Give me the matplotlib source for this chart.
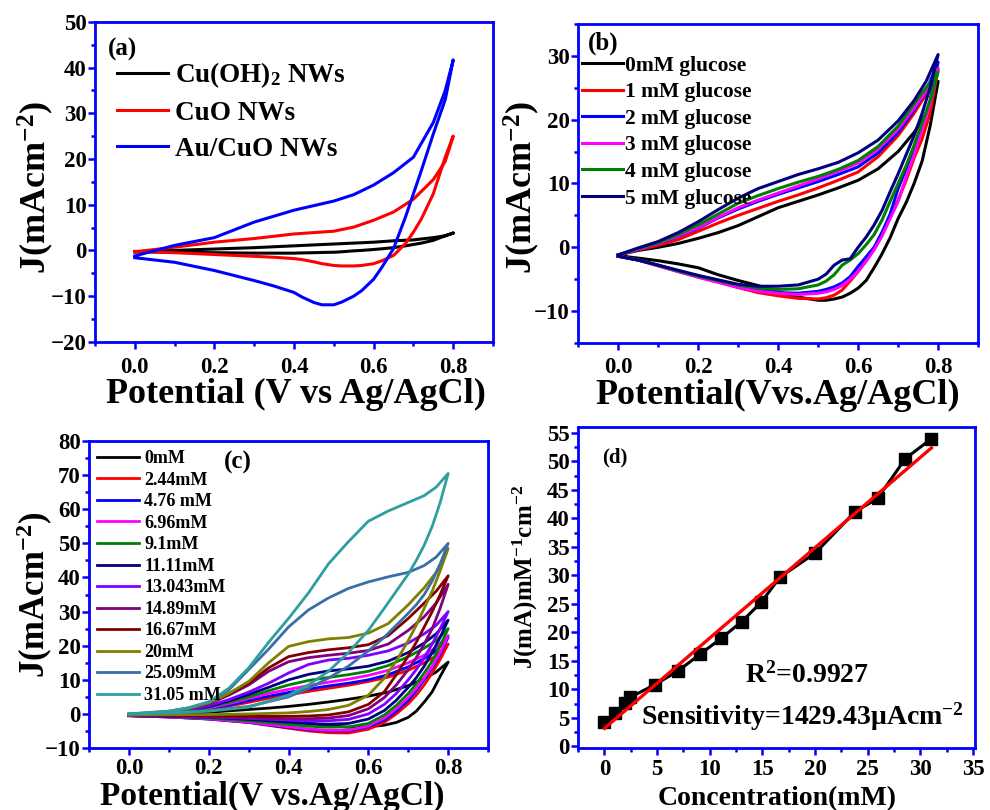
import numpy as np
import matplotlib
matplotlib.use('Agg')
import matplotlib.pyplot as plt
from matplotlib.ticker import MultipleLocator

plt.rcParams['font.family'] = 'Liberation Serif'
plt.rcParams['font.weight'] = 'bold'
plt.rcParams['mathtext.fontset'] = 'custom'
plt.rcParams['mathtext.rm'] = 'Liberation Serif:bold'
plt.rcParams['mathtext.bf'] = 'Liberation Serif:bold'
plt.rcParams['mathtext.default'] = 'regular'

# ---------- DATA ----------
# (a) CVs of the three electrodes, forward (anodic) and reverse scans
a_vf = [0, 0.1, 0.2, 0.3, 0.4, 0.5, 0.55, 0.6, 0.65, 0.7, 0.75, 0.78, 0.8]
a_vr = [0.8, 0.78, 0.75, 0.72, 0.7, 0.68, 0.65, 0.62, 0.6, 0.57, 0.55, 0.52, 0.5,
        0.47, 0.45, 0.42, 0.4, 0.35, 0.3, 0.25, 0.2, 0.1, 0]
a_labels = [r'Cu(OH)$_2$ NWs', 'CuO NWs', 'Au/CuO NWs']
a_colors = ['#000000', '#FF0000', '#0000FF']
cuoh_f = [-0.3, 0.0, 0.3, 0.6, 1.0, 1.4, 1.6, 1.8, 2.1, 2.3, 2.8, 3.2, 3.8]
cuoh_r = [3.8, 3.2, 2.2, 1.6, 1.3, 1.0, 0.6, 0.35, 0.2, 0.0, -0.1, -0.3, -0.4,
          -0.45, -0.5, -0.55, -0.6, -0.6, -0.6, -0.55, -0.5, -0.4, -0.3]
cuo_f = [-0.3, 0.7, 1.8, 2.6, 3.6, 4.2, 5.1, 6.6, 8.4, 11.2, 15.5, 19.5, 25.0]
cuo_r = [25.0, 20.4, 12.4, 6.9, 4.0, 1.5, -1.1, -2.3, -2.9, -3.3, -3.4, -3.4, -3.3,
         -2.9, -2.5, -2.0, -1.8, -1.5, -1.3, -1.1, -0.9, -0.5, -0.2]
aucuo_f = [-1.2, 1.1, 2.8, 6.2, 8.8, 10.8, 12.2, 14.3, 17.0, 20.4, 28.0, 35.0, 41.7]
aucuo_r = [41.7, 33.0, 25.5, 17.5, 12.4, 7.3, 0.4, -3.8, -6.3, -8.8, -10.0, -11.3, -11.9,
           -11.9, -11.4, -10.2, -9.2, -7.8, -6.6, -5.5, -4.4, -2.6, -1.6]
a_fwd = [cuoh_f, cuo_f, aucuo_f]
a_rev = [cuoh_r, cuo_r, aucuo_r]

# (b) CVs with 0-5 mM glucose
b_vf = [0, 0.05, 0.1, 0.15, 0.2, 0.25, 0.3, 0.35, 0.4, 0.45, 0.5, 0.55, 0.6, 0.65, 0.7, 0.74, 0.77, 0.8]
b_vr = [0.8, 0.78, 0.76, 0.74, 0.72, 0.7, 0.68, 0.66, 0.64, 0.62, 0.6, 0.58, 0.56, 0.54, 0.52,
        0.5, 0.45, 0.4, 0.35, 0.3, 0.25, 0.2, 0.15, 0.1, 0.05, 0]
b_labels = ['0mM glucose', '1 mM glucose', '2 mM glucose', '3 mM glucose', '4 mM glucose', '5 mM glucose']
b_colors = ['#000000', '#FF0000', '#0000FF', '#FF00FF', '#008000', '#000080']
g0_f = [-1.2, -0.5, 0.0, 0.6, 1.4, 2.3, 3.4, 4.8, 6.2, 7.2, 8.2, 9.3, 10.5, 12.3, 15.0, 18.0, 21.0, 26.0]
g0_r = [26.0, 19.0, 13.5, 10.0, 7.0, 4.5, 1.5, -1.0, -3.2, -5.2, -6.4, -7.2, -7.8, -8.1, -8.3,
        -8.3, -7.8, -7.0, -6.0, -5.2, -4.3, -3.2, -2.6, -2.1, -1.7, -1.3]
g1_f = [-1.2, -0.4, 0.3, 1.2, 2.5, 3.8, 5.0, 6.1, 7.2, 8.2, 9.3, 10.5, 11.8, 14.2, 17.5, 21.0, 24.0, 28.0]
g1_r = [28.0, 21.0, 17.0, 14.0, 10.5, 7.4, 4.8, 2.1, -0.2, -2.0, -3.8, -5.3, -6.7, -7.5, -7.9,
        -8.1, -8.0, -7.6, -7.1, -6.3, -5.4, -4.6, -3.8, -2.9, -2.0, -1.4]
g2_f = [-1.2, -0.3, 0.6, 1.7, 3.0, 4.6, 6.0, 7.2, 8.3, 9.3, 10.3, 11.4, 12.6, 14.8, 18.0, 21.5, 24.5, 29.0]
g2_r = [29.0, 23.0, 19.0, 15.5, 12.3, 9.2, 5.2, 2.4, 0.0, -1.5, -3.0, -4.6, -5.6, -6.2, -6.6,
        -6.9, -7.2, -7.1, -6.7, -6.1, -5.3, -4.6, -3.7, -2.8, -2.0, -1.4]
g3_f = [-1.2, -0.3, 0.6, 1.8, 3.1, 4.7, 6.2, 7.4, 8.5, 9.6, 10.7, 11.9, 13.2, 15.4, 18.5, 21.8, 24.5, 28.0]
g3_r = [28.0, 22.5, 18.5, 14.5, 11.0, 7.2, 4.5, 1.8, -0.4, -2.2, -3.8, -5.0, -6.0, -6.6, -7.0,
        -7.2, -7.4, -7.2, -6.9, -6.3, -5.5, -4.7, -3.8, -2.9, -2.0, -1.4]
g4_f = [-1.2, -0.2, 0.7, 2.0, 3.5, 5.2, 6.9, 8.1, 9.2, 10.2, 11.1, 12.2, 13.6, 15.8, 19.0, 22.5, 25.0, 27.5]
g4_r = [27.5, 23.0, 19.5, 16.0, 12.8, 10.0, 7.2, 4.3, 2.0, 0.4, -1.0, -2.0, -2.8, -4.3, -5.3,
        -5.9, -6.5, -6.6, -6.4, -5.9, -5.2, -4.5, -3.7, -2.8, -2.0, -1.4]
g5_f = [-1.2, -0.1, 0.9, 2.3, 4.0, 5.9, 7.7, 9.2, 10.3, 11.4, 12.3, 13.3, 14.8, 16.8, 19.8, 23.0, 26.0, 30.2]
g5_r = [30.2, 25.0, 21.0, 17.5, 14.5, 11.5, 8.7, 5.8, 3.5, 1.6, 0.0, -1.8, -2.0, -2.8, -4.2,
        -5.0, -5.9, -6.1, -6.1, -5.8, -5.1, -4.4, -3.6, -2.8, -2.0, -1.4]
b_fwd = [g0_f, g1_f, g2_f, g3_f, g4_f, g5_f]
b_rev = [g0_r, g1_r, g2_r, g3_r, g4_r, g5_r]

# (c) CVs at increasing glucose concentration
c_vf = [0, 0.1, 0.15, 0.2, 0.25, 0.3, 0.35, 0.4, 0.45, 0.5, 0.55, 0.6, 0.65, 0.7, 0.74, 0.77, 0.8]
c_vr = [0.8, 0.78, 0.76, 0.74, 0.72, 0.7, 0.67, 0.64, 0.6, 0.55, 0.5, 0.45, 0.4, 0.3, 0.2, 0.1, 0]
c_labels = ['0mM', '2.44mM', '4.76 mM', '6.96mM', '9.1mM', '11.11mM', '13.043mM',
            '14.89mM', '16.67mM', '20mM', '25.09mM', '31.05 mM']
c_colors = ['#000000', '#FF0000', '#0000FF', '#FF00FF', '#008000', '#000080', '#8000FF',
            '#800080', '#800000', '#808000', '#3A6EA8', '#2E9E9E']
c_fwd = [
    [-0.5, -0.2, 0.1, 0.5, 0.9, 1.3, 1.7, 2.2, 2.8, 3.5, 4.3, 5.2, 6.4, 8.3, 10.3, 12.3, 15.2],
    [-0.5, 0.0, 0.5, 1.2, 2.3, 3.4, 4.6, 5.6, 6.6, 7.5, 8.4, 9.5, 10.8, 12.8, 15.0, 17.0, 20.5],
    [-0.5, 0.1, 0.6, 1.4, 2.6, 3.9, 5.2, 6.3, 7.3, 8.2, 9.0, 10.0, 11.5, 13.8, 16.2, 18.5, 22.5],
    [-0.5, 0.2, 0.8, 1.7, 3.0, 4.5, 6.0, 7.2, 8.3, 9.3, 10.2, 11.3, 12.8, 15.0, 17.2, 19.5, 23.0],
    [-0.5, 0.3, 1.0, 2.0, 3.4, 5.0, 6.8, 8.5, 9.8, 10.7, 11.5, 12.5, 14.2, 16.8, 19.3, 21.5, 25.0],
    [-0.5, 0.3, 1.1, 2.2, 3.8, 5.7, 7.8, 10.0, 11.6, 12.6, 13.2, 14.0, 15.5, 18.0, 20.8, 23.5, 27.5],
    [-0.5, 0.3, 1.2, 2.4, 4.2, 6.4, 9.0, 12.0, 14.5, 15.8, 16.3, 17.2, 18.5, 20.8, 23.5, 26.0, 30.0],
    [-0.3, 0.5, 1.5, 3.0, 5.5, 8.5, 12.5, 15.3, 16.5, 17.2, 17.8, 18.6, 20.5, 24.5, 28.5, 32.5, 38.0],
    [-0.3, 0.5, 1.5, 3.1, 5.8, 9.0, 13.5, 16.8, 18.0, 18.8, 19.4, 20.3, 23.0, 28.0, 32.5, 36.0, 40.5],
    [-0.3, 0.6, 1.6, 3.2, 6.0, 9.5, 15.0, 19.8, 21.2, 22.0, 22.4, 23.7, 26.5, 32.0, 37.0, 41.5, 48.5],
    [0.0, 0.8, 1.8, 3.5, 7.0, 13.0, 19.0, 25.5, 30.5, 34.0, 36.8, 38.7, 40.2, 41.5, 43.5, 46.0, 50.0],
    [0.0, 0.8, 1.8, 3.5, 7.5, 13.5, 21.0, 28.0, 35.5, 44.0, 50.5, 56.5, 59.5, 62.0, 64.0, 66.5, 70.5],
]
c_rev = [
    [15.2, 11.0, 6.5, 3.5, 0.8, -1.0, -2.5, -3.3, -3.8, -3.9, -3.4, -2.8, -2.3, -1.5, -1.0, -0.7, -0.5],
    [20.5, 16.0, 12.0, 8.5, 5.5, 3.0, 0.0, -2.5, -4.5, -5.6, -5.5, -5.0, -4.2, -2.5, -1.5, -0.9, -0.5],
    [22.5, 17.5, 13.5, 10.0, 6.8, 4.0, 0.8, -1.8, -3.8, -5.0, -5.0, -4.6, -4.0, -2.5, -1.5, -0.9, -0.5],
    [23.0, 18.0, 14.0, 10.5, 7.5, 4.8, 1.5, -1.2, -3.5, -4.8, -4.8, -4.4, -3.8, -2.4, -1.4, -0.9, -0.5],
    [25.0, 20.0, 15.5, 12.0, 8.8, 6.0, 2.5, -0.3, -2.8, -3.8, -3.9, -3.6, -3.1, -2.0, -1.2, -0.8, -0.5],
    [27.5, 22.5, 18.0, 14.0, 10.6, 7.8, 4.0, 1.0, -1.5, -2.8, -3.0, -2.8, -2.4, -1.6, -1.0, -0.7, -0.5],
    [30.0, 25.0, 20.5, 16.5, 13.0, 10.0, 6.0, 2.8, 0.0, -1.6, -2.0, -2.0, -1.8, -1.3, -0.9, -0.6, -0.5],
    [38.0, 31.0, 25.0, 20.5, 16.5, 13.0, 8.5, 4.8, 1.5, -0.5, -1.2, -1.4, -1.4, -1.1, -0.8, -0.5, -0.3],
    [40.5, 35.0, 30.0, 25.5, 21.0, 17.0, 11.5, 6.5, 2.8, 0.6, -0.3, -0.6, -0.7, -0.7, -0.5, -0.4, -0.3],
    [48.5, 42.0, 36.0, 31.0, 26.0, 21.5, 15.5, 10.5, 5.5, 2.5, 1.3, 0.7, 0.3, 0.0, -0.2, -0.2, -0.3],
    [50.0, 44.0, 39.0, 35.0, 32.0, 29.5, 26.0, 22.5, 18.5, 14.0, 10.5, 7.5, 5.0, 2.2, 1.0, 0.4, 0.0],
    [70.5, 62.0, 55.0, 49.5, 45.0, 41.0, 36.0, 31.0, 24.5, 18.0, 12.5, 8.5, 5.5, 2.0, 0.8, 0.3, 0.0],
]

# (d) calibration: current vs concentration
conc = [0, 0.99, 1.96, 2.44, 4.76, 6.96, 9.1, 11.11, 13.043, 14.89, 16.67, 20, 23.81, 25.93, 28.57, 31.05]
current = [4.2, 5.9, 7.6, 8.6, 10.8, 13.2, 16.2, 19.0, 21.9, 25.3, 29.7, 33.9, 41.2, 43.5, 50.5, 54.0]

BLUE = '#0000FF'


def style(ax, xlim, ylim, xmaj, xmin, ymaj, ymin, xpad):
    ax.set_xlim(xlim)
    ax.set_ylim(ylim)
    ax.xaxis.set_major_locator(MultipleLocator(xmaj))
    ax.xaxis.set_minor_locator(MultipleLocator(xmin))
    ax.yaxis.set_major_locator(MultipleLocator(ymaj))
    ax.yaxis.set_minor_locator(MultipleLocator(ymin))
    for s in ax.spines.values():
        s.set_color(BLUE)
        s.set_linewidth(2.0)
    ax.tick_params(which='both', direction='out', color=BLUE, width=1.8,
                   labelsize=16.5, labelcolor='black', top=False, right=False)
    ax.tick_params(which='major', length=5)
    ax.tick_params(which='minor', length=3)
    ax.tick_params(axis='x', which='major', pad=xpad)
    ax.tick_params(axis='y', which='major', pad=1)


def cv_ticks(ax):
    ax.set_xticks([0.0, 0.2, 0.4, 0.6, 0.8])
    ax.set_xticklabels(['0.0', '0.2', '0.4', '0.6', '0.8'])


fig = plt.figure(figsize=(9.9, 8.1), dpi=100)

# ---------- (a) ----------
ax = fig.add_axes([0.096, 0.578, 0.402, 0.395])
for fy, ry, col, lab in zip(a_fwd, a_rev, a_colors, a_labels):
    ax.plot(a_vf + a_vr, fy + ry, color=col, lw=2.2, label=lab)
style(ax, (-0.1, 0.9), (-20, 50), 0.2, 0.1, 10, 5, 6)
cv_ticks(ax)
ax.set_xlabel('Potential (V vs Ag/AgCl)', fontsize=26, fontweight='bold')
ax.set_ylabel(r'J(mAcm$^{-2}$)', fontsize=26, fontweight='bold')
ax.xaxis.set_label_coords(0.505, -0.112)
ax.yaxis.set_label_coords(-0.098, 0.484)
ax.text(0.07, 0.9125, '(a)', transform=ax.transAxes, fontsize=18,
        fontweight='bold', ha='center', va='center')
ax.legend(loc='upper left', bbox_to_anchor=(0.055, 0.88), frameon=False,
          fontsize=19.5, handlelength=1.9, handletextpad=0.25, labelspacing=0.4,
          borderpad=0, borderaxespad=0)

# ---------- (b) ----------
ax = fig.add_axes([0.584, 0.5765, 0.404, 0.394])
for fy, ry, col, lab in zip(b_fwd, b_rev, b_colors, b_labels):
    ax.plot(b_vf + b_vr, fy + ry, color=col, lw=2.2, label=lab)
style(ax, (-0.1, 0.9), (-15, 35), 0.2, 0.1, 10, 5, 5)
cv_ticks(ax)
ax.set_yticks([-10, 0, 10, 20, 30])
ax.set_xlabel('Potential(Vvs.Ag/AgCl)', fontsize=26, fontweight='bold')
ax.set_ylabel(r'J(mAcm$^{-2}$)', fontsize=26, fontweight='bold')
ax.xaxis.set_label_coords(0.5, -0.112)
ax.yaxis.set_label_coords(-0.09, 0.486)
ax.text(0.0625, 0.94, '(b)', transform=ax.transAxes, fontsize=18,
        fontweight='bold', ha='center', va='center')
ax.legend(loc='upper left', bbox_to_anchor=(0.01, 0.9), frameon=False,
          fontsize=15.5, handlelength=1.9, handletextpad=0.1, labelspacing=0.3,
          borderpad=0, borderaxespad=0)

# ---------- (c) ----------
ax = fig.add_axes([0.090, 0.0765, 0.403, 0.379])
for fy, ry, col, lab in zip(c_fwd, c_rev, c_colors, c_labels):
    ax.plot(c_vf + c_vr, fy + ry, color=col, lw=2.0, label=lab)
style(ax, (-0.1, 0.9), (-10, 80), 0.2, 0.1, 10, 5, 2)
cv_ticks(ax)
ax.set_xlabel('Potential(V vs.Ag/AgCl)', fontsize=24, fontweight='bold')
ax.set_ylabel(r'J(mAcm$^{-2}$)', fontsize=25, fontweight='bold')
ax.xaxis.set_label_coords(0.46, -0.105)
ax.yaxis.set_label_coords(-0.085, 0.498)
ax.text(0.373, 0.93, '(c)', transform=ax.transAxes, fontsize=18,
        fontweight='bold', ha='center', va='center')
ax.legend(loc='upper left', bbox_to_anchor=(0.02, 0.97), frameon=False,
          fontsize=13, handlelength=2.3, handletextpad=0.3, labelspacing=0.25,
          borderpad=0, borderaxespad=0)

# ---------- (d) ----------
ax = fig.add_axes([0.584, 0.0765, 0.401, 0.396])
slope, icpt = np.polyfit(conc, current, 1)
xfit = np.array([conc[0], conc[-1]])
ax.plot(conc, current, color='black', lw=2.2, marker='s', markersize=8.5, zorder=2)
ax.plot(xfit, slope * xfit + icpt, color='#FF0000', lw=2.4, zorder=3)
style(ax, (-2.5, 35.2), (-0.3, 56), 5, 2.5, 5, 2.5, 3)
ax.set_xlabel('Concentration(mM)', fontsize=20, fontweight='bold')
ax.set_ylabel(r'J(mA)mM$^{-1}$cm$^{-2}$', fontsize=18, fontweight='bold')
ax.xaxis.set_label_coords(0.5, -0.118)
ax.yaxis.set_label_coords(-0.096, 0.533)
ax.text(0.093, 0.907, '(d)', transform=ax.transAxes, fontsize=15,
        fontweight='bold', ha='center', va='center')
ax.text(0.577, 0.227, r'R$^{2}$=0.9927', transform=ax.transAxes, fontsize=20,
        fontweight='bold', ha='center', va='center')
ax.text(0.564, 0.097, r'Sensitivity=1429.43μAcm$^{-2}$', transform=ax.transAxes,
        fontsize=20, fontweight='bold', ha='center', va='center')

fig.savefig('out.png', dpi=100)
